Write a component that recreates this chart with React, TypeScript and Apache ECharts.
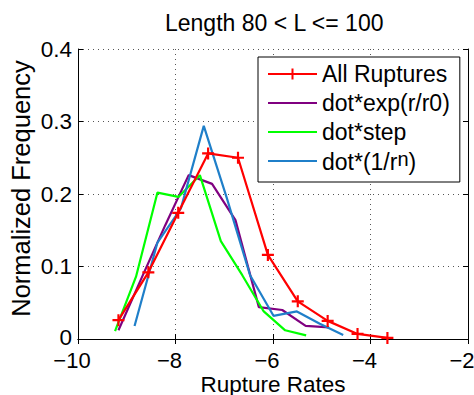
import React, { useEffect, useRef } from "react";
import * as echarts from "echarts";

const FONT = '"Liberation Sans", Arial, Helvetica, sans-serif';

const titleText = "Length 80 < L <= 100";
const xName = "Rupture Rates";
const yName = "Normalized Frequency";

const xTicks = { min: -10, max: -2, interval: 2 };
const yTicks = { min: 0, max: 0.4, interval: 0.1 };

const allName = "All Ruptures";
const allX = [-9.17, -8.557, -7.944, -7.331, -6.718, -6.105, -5.492, -4.879, -4.266, -3.653];
const allY = [0.026, 0.092, 0.174, 0.256, 0.25, 0.116, 0.052, 0.025, 0.007, 0.0015];

const expName = "dot*exp(r/r0)";
const expX = [-9.17, -8.69, -8.21, -7.73, -7.25, -6.77, -6.29, -5.81, -5.33, -4.85];
const expY = [0.012, 0.085, 0.157, 0.226, 0.214, 0.164, 0.044, 0.04, 0.018, 0.016];

const stepName = "dot*step";
const stepX = [-9.24, -8.81, -8.37, -7.94, -7.5, -7.07, -6.63, -6.19, -5.75, -5.32];
const stepY = [0.011, 0.086, 0.202, 0.196, 0.226, 0.135, 0.088, 0.038, 0.012, 0.005];

const powName = "dot*(1/r^n)";
const powX = [-8.84, -8.37, -7.89, -7.42, -6.95, -6.47, -5.99, -5.51, -5.04, -4.56];
const powY = [0.018, 0.133, 0.18, 0.294, 0.195, 0.088, 0.032, 0.038, 0.021, 0.0055];

const zip = (xs: number[], ys: number[]) => xs.map((x, i) => [x, ys[i]]);

const PLUS =
  "path://M-1,-0.18L-0.18,-0.18L-0.18,-1L0.18,-1L0.18,-0.18L1,-0.18L1,0.18L0.18,0.18L0.18,1L-0.18,1L-0.18,0.18L-1,0.18Z";

const hiddenSymbol = { color: "rgba(0,0,0,0)", borderWidth: 0, opacity: 0 };

export default function App() {
  const ref = useRef<HTMLDivElement>(null);
  useEffect(() => {
    if (!ref.current) return;
    const chart = echarts.init(ref.current, undefined, { renderer: "svg" });
    const axisLine = { show: true, lineStyle: { color: "#000", width: 1 } };
    const tick = { show: true, inside: true, length: 5, lineStyle: { color: "#000" } };
    const split = { show: true, lineStyle: { color: "#555", type: [1, 4] as any, width: 1 } };
    const lineW = 2.2;
    chart.setOption({
      animation: false,
      backgroundColor: "#fff",
      title: {
        text: titleText,
        left: 160,
        top: 6,
        textStyle: { fontFamily: FONT, fontSize: 23, fontWeight: "normal", color: "#000" },
      },
      grid: { left: 78, right: 6, top: 49, bottom: 56, show: false, containLabel: false, outerBoundsMode: "none" },
      legend: {
        orient: "vertical",
        left: 258,
        top: 57,
        padding: [5, 10, 3, 9],
        itemWidth: 49,
        itemHeight: 14,
        itemGap: 5,
        borderColor: "#000",
        borderWidth: 1,
        backgroundColor: "#fff",
        data: [
          { name: allName },
          { name: expName, itemStyle: hiddenSymbol },
          { name: stepName, itemStyle: hiddenSymbol },
          { name: powName, itemStyle: hiddenSymbol },
        ],
        textStyle: {
          fontFamily: FONT,
          fontSize: 23,
          color: "#000",
          lineHeight: 24,
          rich: {
            a: { fontFamily: FONT, fontSize: 23, lineHeight: 24, verticalAlign: "bottom", color: "#000" },
            sup: {
              fontFamily: FONT,
              fontSize: 20,
              lineHeight: 20,
              verticalAlign: "top",
              padding: [0, 0, 10, 0],
              color: "#000",
            },
          },
        },
        formatter: (name: string) => {
          if (name.indexOf("^") >= 0) {
            const [pre, rest] = name.split("^");
            return `{a|${pre}}{sup|${rest.replace(")", "")}}{a|)}`;
          }
          return name;
        },
      },
      xAxis: [
        {
          type: "value",
          min: xTicks.min,
          max: xTicks.max,
          interval: xTicks.interval,
          name: xName,
          nameLocation: "middle",
          nameGap: 35,
          nameMoveOverlap: false,
          nameTextStyle: { fontFamily: FONT, fontSize: 22.5, color: "#000", lineHeight: 20 },
          axisLine,
          axisTick: tick,
          splitLine: split,
          axisLabel: {
            fontFamily: FONT,
            fontSize: 22,
            color: "#000",
            lineHeight: 18,
            margin: 12,
            padding: [0, 12, 0, 0],
            showMinLabel: true,
            showMaxLabel: true,
            formatter: (v: number) => (v < 0 ? "\u2212" + Math.abs(v) : String(v)),
          },
        },
        {
          type: "value",
          position: "top",
          min: xTicks.min,
          max: xTicks.max,
          interval: xTicks.interval,
          axisLine,
          axisTick: tick,
          splitLine: { show: false },
          axisLabel: { show: false },
        },
      ],
      yAxis: [
        {
          type: "value",
          min: yTicks.min,
          max: yTicks.max,
          interval: yTicks.interval,
          name: yName,
          nameLocation: "middle",
          nameGap: 44,
          nameMoveOverlap: false,
          nameTextStyle: { fontFamily: FONT, fontSize: 25.5, color: "#000", padding: [0, 0, 0, 11] },
          axisLine,
          axisTick: tick,
          splitLine: split,
          axisLabel: {
            fontFamily: FONT,
            fontSize: 22.5,
            color: "#000",
            lineHeight: 18,
            margin: 6,
            showMinLabel: true,
            showMaxLabel: true,
            formatter: (v: number) => (v === 0 ? "{z|0}" : v.toFixed(1)),
            rich: {
              z: { fontFamily: FONT, fontSize: 22.5, color: "#000", lineHeight: 18, padding: [0, 0, 4, 0] },
            },
          },
        },
        {
          type: "value",
          position: "right",
          min: yTicks.min,
          max: yTicks.max,
          interval: yTicks.interval,
          axisLine,
          axisTick: tick,
          splitLine: { show: false },
          axisLabel: { show: false },
        },
      ],
      series: [
        {
          name: allName,
          type: "line",
          data: zip(allX, allY),
          symbol: PLUS,
          symbolSize: 12,
          showSymbol: true,
          itemStyle: { color: "#ff0000", borderWidth: 0 },
          lineStyle: { color: "#ff0000", width: lineW },
          z: 5,
        },
        {
          name: expName,
          type: "line",
          data: zip(expX, expY),
          symbol: "none",
          itemStyle: { color: "#800080" },
          lineStyle: { color: "#800080", width: lineW },
          z: 2,
        },
        {
          name: stepName,
          type: "line",
          data: zip(stepX, stepY),
          symbol: "none",
          itemStyle: { color: "#00ff00" },
          lineStyle: { color: "#00ff00", width: lineW },
          z: 3,
        },
        {
          name: powName,
          type: "line",
          data: zip(powX, powY),
          symbol: "none",
          itemStyle: { color: "#1f7fc9" },
          lineStyle: { color: "#1f7fc9", width: lineW },
          z: 4,
        },
      ],
    });
    return () => chart.dispose();
  }, []);
  return (
    <div
      ref={ref}
      style={{ position: "fixed", left: 0, top: 0, width: 474, height: 395, background: "#fff" }}
    />
  );
}
